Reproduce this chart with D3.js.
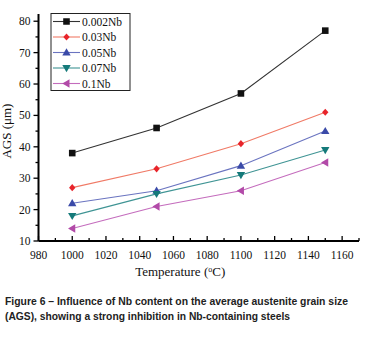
<!DOCTYPE html>
<html><head><meta charset="utf-8">
<script src="https://cdn.jsdelivr.net/npm/d3@7"></script>
<style>body{margin:0;background:#fff}svg{display:block}</style>
</head><body>
<svg id="c" width="367" height="340"></svg>
<script>
const temps = [1000, 1050, 1100, 1150];
const seriesNames = ["0.002Nb", "0.03Nb", "0.05Nb", "0.07Nb", "0.1Nb"];
const s0002 = [38, 46, 57, 77];
const s003 = [27, 33, 41, 51];
const s005 = [22, 26, 34, 45];
const s007 = [18, 25, 31, 39];
const s01 = [14, 21, 26, 35];
const xTicks = [980, 1000, 1020, 1040, 1060, 1080, 1100, 1120, 1140, 1160];
const yTicks = [10, 20, 30, 40, 50, 60, 70, 80];
const captionLines = ["Figure 6 \u2013 Influence of Nb content on the average austenite grain size",
  "(AGS), showing a strong inhibition in Nb-containing steels"];
const captionWidths = [343, 285];

const seriesData = [s0002, s003, s005, s007, s01];
const markerColors = ["#111111", "#e8242b", "#3a4aa8", "#157a7a", "#b24aa8"];
const lineColors = ["#333333", "#f07a66", "#6a74c0", "#3f9494", "#c46cbd"];
const shapes = ["square", "diamond", "up", "down", "left"];

const svg = d3.select("#c");
const x = d3.scaleLinear().domain([980, 1170]).range([38.5, 359]);
const y = d3.scaleLinear().domain([10, 82.3]).range([241, 14]);
const serif = "'Liberation Serif','Times New Roman',serif";

function marker(g, shape, cx, cy, color) {
  let p;
  if (shape === "square") p = `M${cx-3.3},${cy-3.3}h6.6v6.6h-6.6z`;
  else if (shape === "diamond") p = `M${cx},${cy-3.6}L${cx+3.2},${cy}L${cx},${cy+3.6}L${cx-3.2},${cy}z`;
  else if (shape === "up") p = `M${cx},${cy-4.2}L${cx+4.2},${cy+3}L${cx-4.2},${cy+3}z`;
  else if (shape === "down") p = `M${cx},${cy+4.2}L${cx+4.2},${cy-3}L${cx-4.2},${cy-3}z`;
  else p = `M${cx-4.2},${cy}L${cx+3},${cy-4.2}L${cx+3},${cy+4.2}z`;
  g.append("path").attr("d", p).attr("fill", color);
}

// series
seriesData.forEach((vals, i) => {
  const g = svg.append("g");
  const line = d3.line().x((d, j) => x(temps[j])).y(d => y(d));
  g.append("path").datum(vals).attr("d", line).attr("fill", "none")
    .attr("stroke", lineColors[i]).attr("stroke-width", 1.1);
  vals.forEach((v, j) => marker(g, shapes[i], x(temps[j]), y(v), markerColors[i]));
});

// x axis
const xMinor = d3.range(980, 1171, 10);
const xa = svg.append("g").attr("transform", `translate(0,${y(10)})`);
xa.append("line").attr("x1", x(980)).attr("x2", x(1170)).attr("stroke", "#000").attr("stroke-width", 2);
xMinor.forEach(t => {
  const major = xTicks.includes(t);
  xa.append("line").attr("x1", x(t)).attr("x2", x(t)).attr("y1", 0).attr("y2", major ? -5 : -3)
    .attr("stroke", "#000").attr("stroke-width", 1.3);
});
xTicks.forEach(t => {
  xa.append("text").attr("x", x(t)).attr("y", 18).attr("text-anchor", "middle")
    .attr("font-family", serif).attr("font-size", 11.5).attr("fill", "#111").text(t);
});
const xt = svg.append("text").attr("x", x(1064)).attr("y", 276).attr("text-anchor", "middle")
  .attr("font-family", serif).attr("font-size", 13).attr("fill", "#111");
xt.append("tspan").text("Temperature (");
xt.append("tspan").attr("dy", -4).attr("font-size", 8).text("o");
xt.append("tspan").attr("dy", 4).text("C)");

// y axis
const ya = svg.append("g").attr("transform", `translate(${x(980)},0)`);
ya.append("line").attr("y1", y(10)).attr("y2", y(82.3)).attr("stroke", "#000").attr("stroke-width", 2);
d3.range(10, 81, 5).forEach(t => {
  const major = yTicks.includes(t);
  ya.append("line").attr("x1", 0).attr("x2", major ? -5 : -3).attr("y1", y(t)).attr("y2", y(t))
    .attr("stroke", "#000").attr("stroke-width", 1.3);
});
yTicks.forEach(t => {
  ya.append("text").attr("x", -8).attr("y", y(t) + 4).attr("text-anchor", "end")
    .attr("font-family", serif).attr("font-size", 11.5).attr("fill", "#111").text(t);
});
svg.append("text").attr("transform", `translate(11,${y(45)}) rotate(-90)`).attr("text-anchor", "middle")
  .attr("font-family", serif).attr("font-size", 13).attr("fill", "#111").text("AGS (\u03bcm)");

// legend
const lg = svg.append("g");
lg.append("rect").attr("x", 51).attr("y", 13.5).attr("width", 79).attr("height", 77)
  .attr("fill", "#fff").attr("stroke", "#222").attr("stroke-width", 1);
seriesNames.forEach((n, i) => {
  const ly = 21.5 + i * 15.5;
  lg.append("line").attr("x1", 53).attr("x2", 80).attr("y1", ly).attr("y2", ly)
    .attr("stroke", lineColors[i]).attr("stroke-width", 1.1);
  marker(lg, shapes[i], 66.5, ly, markerColors[i]);
  lg.append("text").attr("x", 82).attr("y", ly + 4).attr("font-family", serif)
    .attr("font-size", 11.5).attr("fill", "#111").text(n);
});

// caption
captionLines.forEach((t, i) => {
  svg.append("text").attr("x", 5).attr("y", 305 + i * 14.5)
    .attr("font-family", "'Liberation Sans','Arial',sans-serif")
    .attr("font-weight", "bold").attr("font-size", 11).attr("fill", "#222")
    .attr("textLength", captionWidths[i]).attr("lengthAdjust", "spacingAndGlyphs").text(t);
});
</script>
</body></html>
